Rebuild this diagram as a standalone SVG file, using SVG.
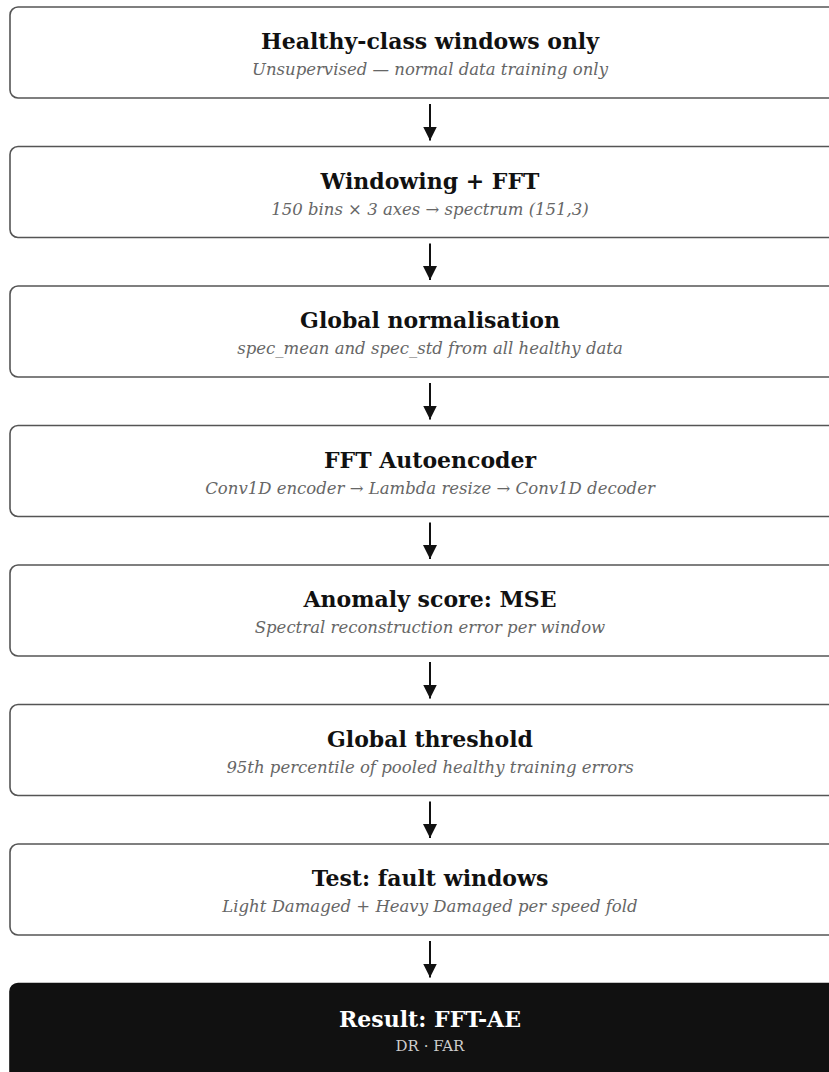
<svg xmlns="http://www.w3.org/2000/svg" width="829" height="1072" viewBox="0 0 829 1072">
<style>
.box{fill:#fff;stroke:#555;stroke-width:1.6}
.dark{fill:#111;stroke:#111;stroke-width:1.6}
.t{font-family:"DejaVu Serif",Georgia,serif;font-weight:bold;font-size:22px;fill:#111;text-anchor:middle}
.s{font-family:"DejaVu Serif",Georgia,serif;font-style:italic;font-size:16.5px;fill:#666;text-anchor:middle}
.tw{fill:#fff}
.sw{font-style:normal;fill:#ccc;font-size:15px}
.c{stroke:#111;stroke-width:2;fill:none}
</style>
<defs>
<marker id="ah" viewBox="0 0 10 10" refX="10" refY="5" markerWidth="7" markerHeight="7" markerUnits="strokeWidth" orient="auto">
<path d="M0,0 L10,5 L0,10 z" fill="#111"/>
</marker>
</defs>
<rect width="829" height="1072" fill="#fff"/>
<g id="connectors">
<line class="c" x1="430" y1="104" x2="430" y2="140.5" marker-end="url(#ah)"/>
<line class="c" x1="430" y1="243.5" x2="430" y2="280" marker-end="url(#ah)"/>
<line class="c" x1="430" y1="383" x2="430" y2="419.5" marker-end="url(#ah)"/>
<line class="c" x1="430" y1="522.5" x2="430" y2="559" marker-end="url(#ah)"/>
<line class="c" x1="430" y1="662" x2="430" y2="698.5" marker-end="url(#ah)"/>
<line class="c" x1="430" y1="801.5" x2="430" y2="838" marker-end="url(#ah)"/>
<line class="c" x1="430" y1="941" x2="430" y2="977.5" marker-end="url(#ah)"/>
</g>
<g id="n1"><rect class="box" x="10" y="7" width="840" height="91" rx="8"/>
<text class="t" x="430" y="49">Healthy-class windows only</text>
<text class="s" x="430" y="75">Unsupervised — normal data training only</text></g>
<g id="n2"><rect class="box" x="10" y="146.5" width="840" height="91" rx="8"/>
<text class="t" x="430" y="188.5">Windowing + FFT</text>
<text class="s" x="430" y="214.5">150 bins × 3 axes → spectrum (151,3)</text></g>
<g id="n3"><rect class="box" x="10" y="286" width="840" height="91" rx="8"/>
<text class="t" x="430" y="328">Global normalisation</text>
<text class="s" x="430" y="354">spec_mean and spec_std from all healthy data</text></g>
<g id="n4"><rect class="box" x="10" y="425.5" width="840" height="91" rx="8"/>
<text class="t" x="430" y="467.5">FFT Autoencoder</text>
<text class="s" x="430" y="493.5">Conv1D encoder → Lambda resize → Conv1D decoder</text></g>
<g id="n5"><rect class="box" x="10" y="565" width="840" height="91" rx="8"/>
<text class="t" x="430" y="607">Anomaly score: MSE</text>
<text class="s" x="430" y="633">Spectral reconstruction error per window</text></g>
<g id="n6"><rect class="box" x="10" y="704.5" width="840" height="91" rx="8"/>
<text class="t" x="430" y="746.5">Global threshold</text>
<text class="s" x="430" y="772.5">95th percentile of pooled healthy training errors</text></g>
<g id="n7"><rect class="box" x="10" y="844" width="840" height="91" rx="8"/>
<text class="t" x="430" y="886">Test: fault windows</text>
<text class="s" x="430" y="912">Light Damaged + Heavy Damaged per speed fold</text></g>
<g id="n8"><rect class="dark" x="10" y="983.5" width="840" height="100" rx="8"/>
<text class="t tw" x="430" y="1027">Result: FFT-AE</text>
<text class="s sw" x="430" y="1051">DR · FAR</text></g>
</svg>
